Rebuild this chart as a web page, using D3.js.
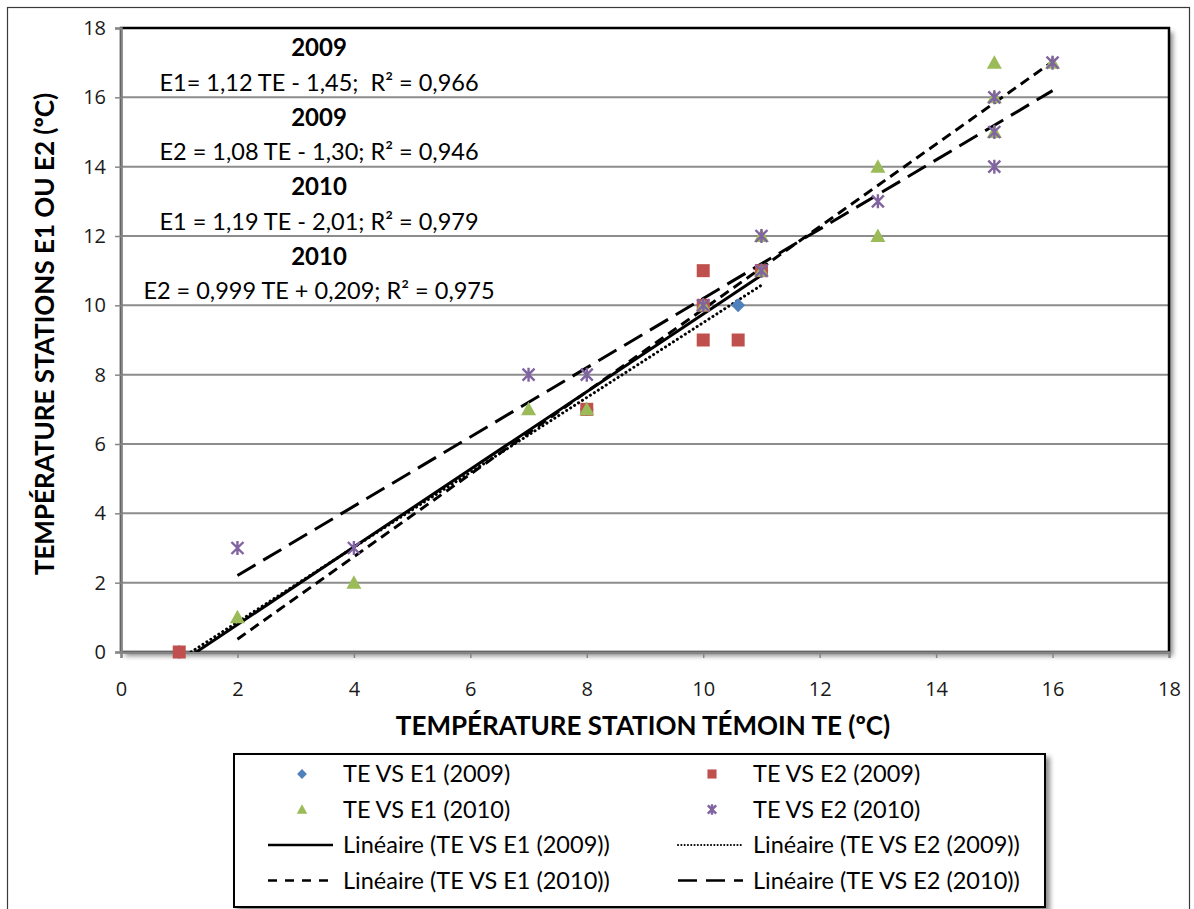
<!DOCTYPE html>
<html>
<head>
<meta charset="utf-8">
<script src="https://cdn.jsdelivr.net/npm/d3@7"></script>
<style>
  body { margin: 0; background: #fff; }
  svg { display: block; font-family: Lato, "Open Sans", sans-serif; }
</style>
</head>
<body>
<svg id="chart" width="1194" height="909"></svg>
<script>
/** Series data: station témoin TE (x) vs station E1 / E2 (y) */
var e1_2009_x = [1, 8, 10, 10.6, 11],
    e1_2009_y = [0, 7, 10, 10, 11];

var e2_2009_x = [1, 8, 10, 10, 10, 10.6, 11],
    e2_2009_y = [0, 7, 11, 10, 9, 9, 11];

var e1_2010_x = [2, 4, 7, 8, 10, 11, 11, 13, 13, 15, 15, 15, 16],
    e1_2010_y = [1, 2, 7, 7, 10, 12, 11, 14, 12, 17, 16, 15, 17];

var e2_2010_x = [2, 4, 7, 8, 10, 11, 11, 13, 15, 15, 15, 16],
    e2_2010_y = [3, 3, 8, 8, 10, 12, 11, 13, 16, 15, 14, 17];

/** Trend lines: slope, intercept, x range */
var trendSlope = [1.12, 1.08, 1.19, 0.999],
    trendIntercept = [-1.45, -1.30, -2.01, 0.209],
    trendFrom = [1, 1, 2, 2],
    trendTo = [11, 11, 16, 16];

var seriesNames = ['TE VS E1 (2009)', 'TE VS E2 (2009)', 'TE VS E1 (2010)', 'TE VS E2 (2010)'];
var trendNames = ['Linéaire (TE VS E1 (2009))', 'Linéaire (TE VS E2 (2009))',
                  'Linéaire (TE VS E1 (2010))', 'Linéaire (TE VS E2 (2010))'];

var eqYears = ['2009', '2009', '2010', '2010'];
var eqTexts = ['E1= 1,12 TE - 1,45;  R² = 0,966', 'E2 = 1,08 TE - 1,30; R² = 0,946',
               'E1 = 1,19 TE - 2,01; R² = 0,979', 'E2 = 0,999 TE + 0,209; R² = 0,975'];

var axisTicks = [0, 2, 4, 6, 8, 10, 12, 14, 16, 18];

/** Layout */
var plotLeft = 121, plotRight = 1169, plotTop = 28, plotBottom = 652;

var colors = ['#4F81BD', '#C0504D', '#9BBB59', '#8064A2'];
var dashes = [null, '0.1 4.6', '10 6', '21 9'];

var xScale = d3.scaleLinear().domain([0, 18]).range([plotLeft, plotRight]);
var yScale = d3.scaleLinear().domain([0, 18]).range([plotBottom, plotTop]);

var svg = d3.select('#chart');
var defs = svg.append('defs');

var shadow = defs.append('filter').attr('id', 'shadow')
    .attr('x', '-5%').attr('y', '-5%').attr('width', '110%').attr('height', '115%');
shadow.append('feDropShadow').attr('dx', 4).attr('dy', 4).attr('stdDeviation', 2.5)
    .attr('flood-color', '#000').attr('flood-opacity', 0.45);

defs.append('clipPath').attr('id', 'plotClip')
    .append('rect')
    .attr('x', plotLeft).attr('y', plotTop)
    .attr('width', plotRight - plotLeft).attr('height', plotBottom - plotTop);

// outer chart border
svg.append('rect')
    .attr('x', 7.5).attr('y', 7.5).attr('width', 1182).attr('height', 920)
    .attr('fill', 'none').attr('stroke', '#3a3a3a').attr('stroke-width', 1.2);

// plot area with shadow
svg.append('rect')
    .attr('x', plotLeft).attr('y', plotTop)
    .attr('width', plotRight - plotLeft).attr('height', plotBottom - plotTop)
    .attr('fill', '#fff').attr('filter', 'url(#shadow)');

// gridlines
svg.append('g').selectAll('line')
    .data(axisTicks.filter(function (d) { return d > 0 && d < 18; }))
    .enter().append('line')
    .attr('x1', plotLeft).attr('x2', plotRight)
    .attr('y1', function (d) { return yScale(d); })
    .attr('y2', function (d) { return yScale(d); })
    .attr('stroke', '#8c8c8c').attr('stroke-width', 2);

// plot border
svg.append('rect')
    .attr('x', plotLeft).attr('y', plotTop)
    .attr('width', plotRight - plotLeft).attr('height', plotBottom - plotTop)
    .attr('fill', 'none').attr('stroke', '#000').attr('stroke-width', 2.5);

// axes
var xAxis = d3.axisBottom(xScale).tickValues(axisTicks).tickSize(6).tickPadding(24);
var yAxis = d3.axisLeft(yScale).tickValues(axisTicks).tickSize(6).tickPadding(9);

var gx = svg.append('g').attr('transform', 'translate(0,' + plotBottom + ')').call(xAxis);
var gy = svg.append('g').attr('transform', 'translate(' + plotLeft + ',0)').call(yAxis);

[gx, gy].forEach(function (g) {
    g.select('.domain').attr('stroke', '#868686').attr('stroke-width', 2.5);
    g.selectAll('.tick line').attr('stroke', '#868686').attr('stroke-width', 1.5);
    g.selectAll('.tick text')
        .attr('fill', '#1a1a1a')
        .style('font-family', '"Open Sans", sans-serif')
        .style('font-size', '20px');
});

// axis titles
svg.append('text')
    .attr('x', (plotLeft + plotRight) / 2 - 2).attr('y', 735)
    .attr('text-anchor', 'middle')
    .style('font-weight', 'bold').style('font-size', '26px')
    .text('TEMPÉRATURE STATION TÉMOIN TE (ºC)');

svg.append('text')
    .attr('transform', 'translate(54,' + ((plotTop + plotBottom) / 2 - 6) + ') rotate(-90)')
    .attr('text-anchor', 'middle')
    .style('font-weight', 'bold').style('font-size', '26px')
    .text('TEMPÉRATURE STATIONS E1 OU E2 (ºC)');

// trend lines
var plot = svg.append('g').attr('clip-path', 'url(#plotClip)');

plot.selectAll('line.trend')
    .data(d3.range(4))
    .enter().append('line')
    .attr('class', 'trend')
    .attr('x1', function (i) { return xScale(trendFrom[i]); })
    .attr('y1', function (i) { return yScale(trendSlope[i] * trendFrom[i] + trendIntercept[i]); })
    .attr('x2', function (i) { return xScale(trendTo[i]); })
    .attr('y2', function (i) { return yScale(trendSlope[i] * trendTo[i] + trendIntercept[i]); })
    .attr('stroke', '#000')
    .attr('stroke-width', function (i) { return i === 1 ? 3 : 3; })
    .attr('stroke-linecap', function (i) { return i === 1 ? 'round' : 'butt'; })
    .attr('stroke-dasharray', function (i) { return dashes[i]; });

// marker shapes
function drawMarker(g, k, cx, cy, scale) {
    var s = scale || 1;
    if (k === 0) {
        g.append('path')
            .attr('d', 'M' + cx + ',' + (cy - 7 * s) + 'L' + (cx + 7 * s) + ',' + cy +
                  'L' + cx + ',' + (cy + 7 * s) + 'L' + (cx - 7 * s) + ',' + cy + 'Z')
            .attr('fill', colors[0]);
    } else if (k === 1) {
        g.append('rect')
            .attr('x', cx - 6.5 * s).attr('y', cy - 6.5 * s)
            .attr('width', 13 * s).attr('height', 13 * s)
            .attr('fill', colors[1]);
    } else if (k === 2) {
        g.append('path')
            .attr('d', 'M' + cx + ',' + (cy - 7.5 * s) + 'L' + (cx + 7.5 * s) + ',' + (cy + 6 * s) +
                  'L' + (cx - 7.5 * s) + ',' + (cy + 6 * s) + 'Z')
            .attr('fill', colors[2]);
    } else {
        var r = 6 * s;
        g.append('path')
            .attr('d', 'M' + (cx - r) + ',' + (cy - r) + 'L' + (cx + r) + ',' + (cy + r) +
                  'M' + (cx - r) + ',' + (cy + r) + 'L' + (cx + r) + ',' + (cy - r) +
                  'M' + cx + ',' + (cy - r - 1) + 'L' + cx + ',' + (cy + r + 1))
            .attr('stroke', colors[3]).attr('stroke-width', 2.4).attr('fill', 'none');
    }
}

var allX = [e1_2009_x, e2_2009_x, e1_2010_x, e2_2010_x],
    allY = [e1_2009_y, e2_2009_y, e1_2010_y, e2_2010_y];

allX.forEach(function (xs, k) {
    var g = svg.append('g');
    xs.forEach(function (xv, j) {
        drawMarker(g, k, xScale(xv), yScale(allY[k][j]));
    });
});

// equation labels
var eqCenter = 319;
var eqG = svg.append('g').style('font-size', '23.5px');
eqYears.forEach(function (yr, i) {
    eqG.append('text')
        .attr('x', eqCenter).attr('y', 56 + i * 69.5)
        .attr('text-anchor', 'middle').style('font-weight', 'bold')
        .style('font-size', '24px')
        .text(yr);
    eqG.append('text')
        .attr('x', eqCenter).attr('y', 90.5 + i * 69.5)
        .attr('text-anchor', 'middle')
        .style('white-space', 'pre')
        .text(eqTexts[i]);
});

// legend
var legend = svg.append('g');
legend.append('rect')
    .attr('x', 234).attr('y', 754).attr('width', 811).attr('height', 153)
    .attr('fill', '#fff').attr('stroke', '#000').attr('stroke-width', 2)
    .attr('filter', 'url(#shadow)');

var colText = [343, 753],
    rowY = [774, 809.5, 845, 880.5];

seriesNames.forEach(function (name, k) {
    var col = k % 2, row = Math.floor(k / 2);
    var tx = colText[col], ty = rowY[row];
    drawMarker(legend, k, tx - 41, ty, 0.7);
    legend.append('text').attr('x', tx).attr('y', ty + 8)
        .style('font-size', '23.5px').text(name);
});

trendNames.forEach(function (name, k) {
    var col = k % 2, row = 2 + Math.floor(k / 2);
    var tx = colText[col], ty = rowY[row];
    legend.append('line')
        .attr('x1', tx - 75).attr('x2', tx - 10)
        .attr('y1', ty).attr('y2', ty)
        .attr('stroke', '#000')
        .attr('stroke-width', k === 1 ? 2 : 2.6)
        .attr('stroke-linecap', k === 1 ? 'round' : 'butt')
        .attr('stroke-dasharray', k === 1 ? '0.1 3.2' : (k === 2 ? '9 8' : (k === 3 ? '19 9' : null)));
    legend.append('text').attr('x', tx).attr('y', ty + 8)
        .style('font-size', '23.5px').text(name);
});
</script>
</body>
</html>
